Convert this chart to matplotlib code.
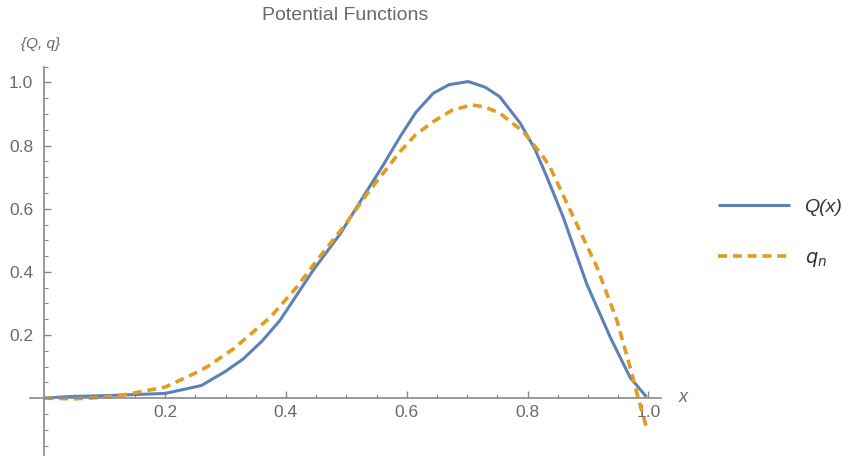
import matplotlib
matplotlib.use("Agg")
import matplotlib.pyplot as plt
from matplotlib.ticker import MultipleLocator, FixedLocator

plt.rcParams['font.family'] = ['Liberation Sans', 'DejaVu Sans']

# Q(x)
q_x = [0.0, 0.04, 0.10, 0.20, 0.26, 0.30, 0.329, 0.360, 0.390, 0.445, 0.490, 0.528,
       0.56, 0.589, 0.615, 0.644, 0.670, 0.702, 0.730, 0.754, 0.788, 0.813, 0.832,
       0.859, 0.898, 0.937, 0.970, 0.997]
q_y = [0.0, 0.005, 0.008, 0.015, 0.04, 0.085, 0.124, 0.18, 0.246, 0.405, 0.521, 0.638,
       0.735, 0.828, 0.905, 0.966, 0.993, 1.003, 0.985, 0.955, 0.871, 0.786, 0.701,
       0.574, 0.362, 0.193, 0.065, 0.004]

# q_n
qn_x = [0.0, 0.05, 0.10, 0.13, 0.20, 0.254, 0.27, 0.313, 0.374, 0.418, 0.451, 0.495,
        0.539, 0.589, 0.615, 0.644, 0.675, 0.708, 0.730, 0.754, 0.793, 0.824, 0.837,
        0.870, 0.915, 0.948, 0.970, 0.983, 0.997]
qn_y = [0.0, -0.002, 0.003, 0.01, 0.035, 0.083, 0.10, 0.156, 0.256, 0.352, 0.436, 0.542,
        0.659, 0.781, 0.835, 0.876, 0.912, 0.929, 0.922, 0.903, 0.844, 0.770, 0.733,
        0.598, 0.415, 0.246, 0.097, 0.002, -0.093]

x_ticks = [0.2, 0.4, 0.6, 0.8, 1.0]
y_ticks = [0.2, 0.4, 0.6, 0.8, 1.0]
title = "Potential Functions"
labels = ["Q(x)", "$q_n$"]

blue = "#5E81B5"
orange = "#E19C24"
axis_col = "#8a8a8a"
text_col = "#6a6a6a"

fig = plt.figure(figsize=(8.52, 4.59), dpi=100)
ax = fig.add_axes([30/852, 4/459, (661-30)/852, (455-66.7)/459])

l1, = ax.plot(q_x, q_y, color=blue, lw=2.2, solid_capstyle='butt')
l2, = ax.plot(qn_x, qn_y, color=orange, lw=2.6, dashes=(2.5, 1.6))

ax.set_xlim(-0.0237, 1.021)
ax.set_ylim(-0.18, 1.05)

for s in ['top', 'right']:
    ax.spines[s].set_visible(False)
ax.spines['left'].set_position(('data', 0))
ax.spines['bottom'].set_position(('data', 0))
for s in ['left', 'bottom']:
    ax.spines[s].set_color(axis_col)
    ax.spines[s].set_linewidth(1.2)

ax.xaxis.set_major_locator(FixedLocator(x_ticks))
ax.yaxis.set_major_locator(FixedLocator(y_ticks))
ax.xaxis.set_minor_locator(MultipleLocator(0.05))
ax.yaxis.set_minor_locator(MultipleLocator(0.05))
ax.set_xticklabels([f"{v:.1f}" for v in x_ticks])
ax.set_yticklabels([f"{v:.1f}" for v in y_ticks])
ax.tick_params(axis='x', which='both', direction='in', colors=axis_col,
               labelcolor=text_col, labelsize=12.5, pad=5)
ax.tick_params(axis='y', which='both', direction='in', colors=axis_col,
               labelcolor=text_col, labelsize=12.5, pad=8)
ax.tick_params(which='major', length=5, width=1)
ax.tick_params(which='minor', length=3, width=0.8)
ax.set_facecolor('none')

fig.text(345/852, 1 - 15/459, title, ha='center', va='center', fontsize=14, color=text_col)
fig.text(41/852, 1 - 44/459, "{Q, q}", ha='center', va='center', fontsize=11,
         color=text_col, style='italic')
fig.text(683/852, 1 - 397/459, "x", ha='center', va='center', fontsize=13,
         color=text_col, style='italic')

leg = fig.legend([l1, l2], labels, loc='center left', bbox_to_anchor=(718/852, 1 - 233.5/459),
                 frameon=False, fontsize=14, handlelength=3.7, labelspacing=1.7,
                 handletextpad=0.75, borderpad=0, borderaxespad=0)
for t in leg.get_texts():
    t.set_style('italic')
    t.set_color('#333333')

fig.savefig("out.png", dpi=100)
